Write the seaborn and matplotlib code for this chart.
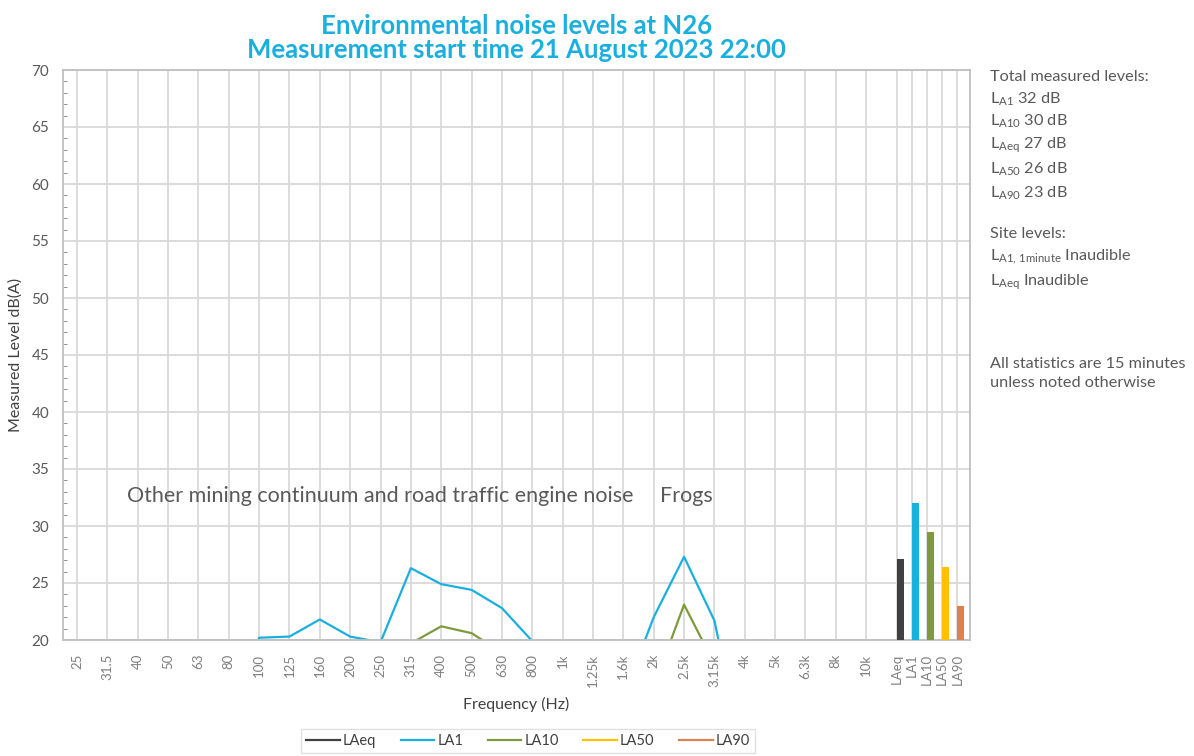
import numpy as np
import pandas as pd
import matplotlib
matplotlib.use('Agg')
import matplotlib.pyplot as plt
import seaborn as sns

# Third-octave bands shown on the x axis
bands = ['25', '31.5', '40', '50', '63', '80', '100', '125', '160', '200', '250',
         '315', '400', '500', '630', '800', '1k', '1.25k', '1.6k', '2k', '2.5k',
         '3.15k', '4k', '5k', '6.3k', '8k', '10k']
stat_labels = ['LAeq', 'LA1', 'LA10', 'LA50', 'LA90']

# Spectra (dB(A)); values under 20 are below the axis floor
la1 = [6, 8, 9, 10, 11, 12, 20.2, 20.3, 21.8, 20.3, 19.8, 26.3, 24.9, 24.4, 22.8,
       19.9, 14, 14, 15, 22.0, 27.3, 21.7, 9, 8, 8, 7, 6]
la10 = [3, 4, 5, 6, 7, 8, 14, 15, 16, 15, 15, 19.7, 21.2, 20.6, 18.9,
        15, 11, 11, 12, 15.9, 23.1, 17.9, 6, 5, 5, 4, 3]
laeq = [2, 3, 4, 5, 6, 7, 12, 13, 14, 13, 13, 17, 18, 17.5, 16,
        13, 10, 10, 11, 14, 19, 15, 5, 4, 4, 3, 2]
la50 = [1, 2, 3, 4, 5, 6, 10, 11, 12, 11, 11, 15, 16, 15.5, 14,
        11, 8, 8, 9, 12, 17, 13, 4, 3, 3, 2, 1]
la90 = [0, 1, 2, 3, 4, 5, 8, 9, 10, 9, 9, 12, 13, 12.5, 11,
        8, 6, 6, 7, 9, 13, 10, 2, 1, 1, 0, 0]

# Total measured levels (bars)
totals = [27.1, 32.0, 29.5, 26.4, 23.0]

colors = {'LAeq': '#404040', 'LA1': '#1AAFDF', 'LA10': '#7F9A3C',
          'LA50': '#FFC000', 'LA90': '#E0804C'}

plt.rcParams['font.family'] = ['Lato', 'DejaVu Sans']
plt.rcParams['mathtext.fontset'] = 'custom'
plt.rcParams['mathtext.rm'] = 'Lato'
plt.rcParams['mathtext.it'] = 'Lato:italic'
plt.rcParams['mathtext.bf'] = 'Lato:bold'

band_pos = np.arange(len(bands))
stat_pos = 27 + 0.5 * np.arange(len(stat_labels))

series = {'LAeq': laeq, 'LA1': la1, 'LA10': la10, 'LA50': la50, 'LA90': la90}
df = pd.concat([pd.DataFrame({'pos': band_pos, 'level': v, 'series': k})
                for k, v in series.items()], ignore_index=True)

fig = plt.figure(figsize=(11.94, 7.56), dpi=100)
ax = fig.add_axes([63 / 1194, 1 - 640 / 756, (970 - 63) / 1194, (640 - 70) / 756])

sns.lineplot(data=df, x='pos', y='level', hue='series', palette=colors,
             hue_order=stat_labels, linewidth=1.6, ax=ax, legend=True)
ax.bar(stat_pos, totals, width=0.23, align='edge', bottom=0,
       color=[colors[s] for s in stat_labels], zorder=3)

ax.set_xlim(-0.46, 29.42)
ax.set_ylim(20, 70)
ax.set_xticks(np.concatenate([band_pos, stat_pos]))
ax.set_xticklabels(bands + stat_labels, rotation=90, fontsize=9.5, color='#7f7f7f')
ax.set_yticks(np.arange(20, 71, 5))
ax.set_yticks(np.arange(20, 71, 1), minor=True)
ax.tick_params(axis='y', which='major', length=0, labelsize=11, labelcolor='#595959', pad=10)
ax.tick_params(axis='y', which='minor', length=3, direction='in', color='#808080')
ax.tick_params(axis='x', length=0, pad=10)
ax.grid(True, which='major', color='#d9d9d9', linewidth=1.3)
ax.set_axisbelow(True)
for s in ax.spines.values():
    s.set_color('#bfbfbf')
    s.set_linewidth(1.3)

ax.set_xlabel('Frequency (Hz)', fontsize=11.5, color='#404040', labelpad=7)
ax.set_ylabel('Measured Level dB(A)', fontsize=11.5, color='#404040', labelpad=6)
ax.set_title('Environmental noise levels at N26\nMeasurement start time 21 August 2023 22:00',
             fontsize=18.5, fontweight='bold', color='#1AAFDF', pad=9, linespacing=1.0)

ax.text(1.65, 32.6, 'Other mining continuum and road traffic engine noise',
        fontsize=15.5, color='#595959', va='center')
ax.text(19.2, 32.6, 'Frogs', fontsize=15.5, color='#595959', va='center')

handles, labels = ax.get_legend_handles_labels()
ax.get_legend().remove()
leg = fig.legend(handles, labels, loc='center', bbox_to_anchor=(528 / 1194, 1 - 741 / 756),
                 ncol=5, fontsize=10.5, frameon=True, fancybox=False, handlelength=2.3,
                 columnspacing=1.7, handletextpad=0.2, borderpad=0.35)
leg.get_frame().set_edgecolor('#d9d9d9')
for t in leg.get_texts():
    t.set_color('#404040')

side = [
    (77, 'Total measured levels:'),
    (99, r'L$_{\mathrm{A1}}$ 32 dB'),
    (121, r'L$_{\mathrm{A10}}$ 30 dB'),
    (145, r'L$_{\mathrm{Aeq}}$ 27 dB'),
    (169, r'L$_{\mathrm{A50}}$ 26 dB'),
    (193, r'L$_{\mathrm{A90}}$ 23 dB'),
    (234, 'Site levels:'),
    (257, r'L$_{\mathrm{A1,\,1minute}}$ Inaudible'),
    (282, r'L$_{\mathrm{Aeq}}$ Inaudible'),
    (364, 'All statistics are 15 minutes'),
    (383, 'unless noted otherwise'),
]
for y, s in side:
    fig.text(990 / 1194, 1 - y / 756, s, fontsize=11.7, color='#595959', va='center')

fig.savefig('out.png', dpi=100)
